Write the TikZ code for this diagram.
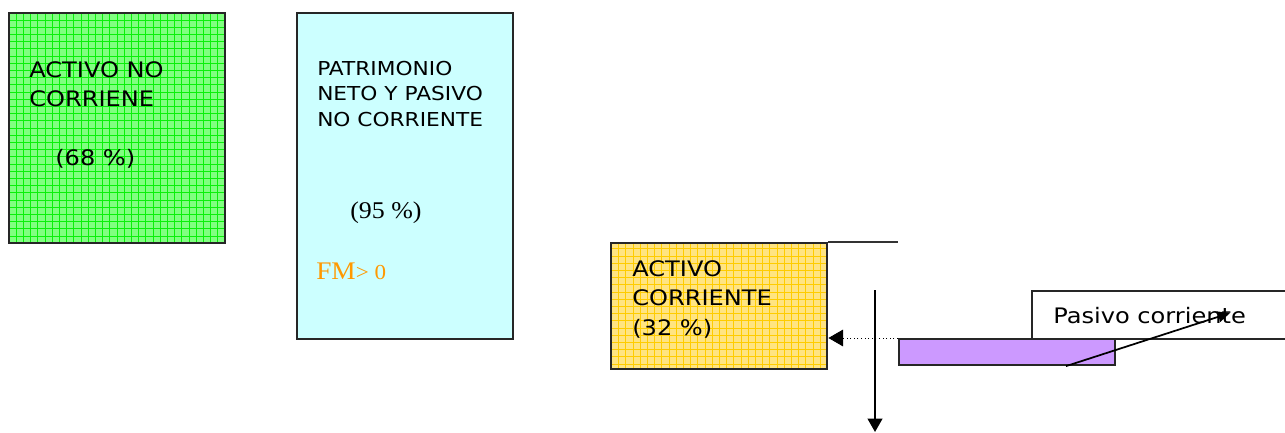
\documentclass[tikz,border=0pt]{standalone}
\usepackage{fontspec}
\usepackage{tikz}
\usetikzlibrary{arrows.meta,calc}
\newfontfamily\verd[FakeStretch=1.13]{DejaVu Sans}
\newfontfamily\tms[FakeStretch=1.08]{Liberation Serif}
\definecolor{verde}{RGB}{128,255,128}
\definecolor{lineaverde}{RGB}{10,240,10}
\definecolor{amarillo}{RGB}{255,228,130}
\definecolor{lineaamarilla}{RGB}{255,204,0}
\definecolor{celeste}{RGB}{204,255,255}
\definecolor{lila}{RGB}{204,153,255}
\definecolor{naranja}{RGB}{255,153,0}

\begin{document}
\begin{tikzpicture}[x=0.75pt,y=-0.75pt]
\tikzstyle{every node}=[inner sep=0pt]
\tikzstyle{caja}=[draw=black!85,line width=1.3pt,anchor=north west]
\tikzstyle{rejilla}=[path picture={\draw[#1,line width=0.4pt,step=5.4pt]
  (path picture bounding box.south west) grid (path picture bounding box.north east);}]
\tikzstyle{txt}=[anchor=base west,align=left,font=\verd\fontsize{16}{21.75}\selectfont]
\useasboundingbox (0,0) rectangle (1285,432);
% activo no corriente
\node[caja,fill=verde,rejilla=lineaverde,minimum width=162pt,minimum height=172.5pt] (anc) at (8,12) {};
\node[txt] (tanc) at (29,106) {ACTIVO NO\\CORRIENE};
\node[txt] (panc) at (55,165) {(68 \%)};
% patrimonio neto y pasivo no corriente
\node[caja,fill=celeste,minimum width=162pt,minimum height=244.5pt] (pat) at (296,12) {};
\node[txt,font=\verd\fontsize{14.4}{19.1}\selectfont] (tpat) at (317,126) {PATRIMONIO\\NETO Y PASIVO\\NO CORRIENTE};
\node[anchor=base west,font=\tms\fontsize{18}{20}\selectfont] (ppat) at (350,218) {(95 \%)};
\node[anchor=base west,text=naranja,font=\tms\fontsize{19}{20}\selectfont] (fm) at (316,279) {FM{\fontsize{16}{18}\selectfont> 0}};
% activo corriente
\node[caja,line width=1.8pt,fill=amarillo,rejilla=lineaamarilla,minimum width=162pt,minimum height=94.5pt] (ac) at (610,242) {};
\node[txt,font=\verd\fontsize{16}{22}\selectfont] (tac) at (632,335) {ACTIVO\\CORRIENTE\\(32 \%)};
% pasivo corriente
\node[caja,line width=1.2pt,fill=white,minimum width=200pt,minimum height=36pt] (pcorr) at (1031,290) {};
\node[txt] (tpc) at (1053,323) {Pasivo corriente};
\node[caja,line width=1.6pt,fill=lila,minimum width=162pt,minimum height=19.5pt] (pc) at (898,338) {};
% conectores
\coordinate (fin) at (898,242);
\coordinate (v1) at (875,290);
\coordinate (v2) at (875,432);
\coordinate (d1) at ($(pc.south west)!0.77!(pc.south east)$);
\coordinate (d2) at (1230,313);
\draw[line width=1.2pt,black!80] (ac.north east) -- (fin);
\draw[line width=1.4pt,-{Triangle[length=10pt,width=11pt]}] (v1) -- (v2);
\draw[dotted,line width=0.7pt,-{Triangle[length=11pt,width=12.5pt]}] (pc.north west) -- (ac.east |- pc.north west);
\draw[line width=1.3pt,-{Triangle[length=9pt,width=8pt]}] (d1) -- (d2);
\end{tikzpicture}
\end{document}
